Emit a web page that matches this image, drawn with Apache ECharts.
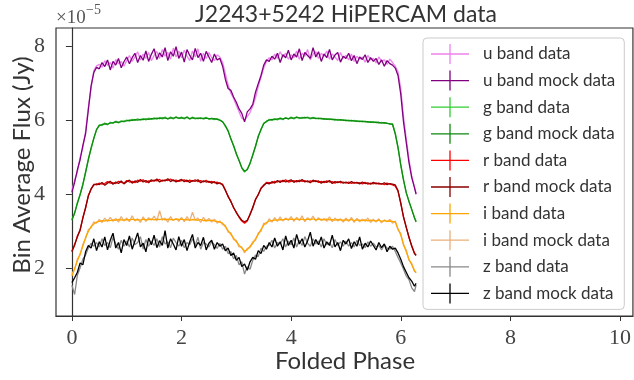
<!DOCTYPE html>
<html>
<head>
<meta charset="utf-8">
<script src="https://cdn.jsdelivr.net/npm/echarts@6/dist/echarts.min.js"></script>
<style>
  html, body { margin: 0; padding: 0; background: #fff; }
  #chart { width: 634px; height: 380px; }
</style>
</head>
<body>
<div id="chart"></div>
<script>
// folded phase of each bin (flux values below are in units of 1e-5 Jy)
const phase = [
  0, 0.05, 0.1, 0.15, 0.2, 0.25, 0.3, 0.35, 0.4, 0.45,
  0.5, 0.55, 0.6, 0.65, 0.7, 0.75, 0.8, 0.85, 0.9, 0.95,
  1, 1.05, 1.1, 1.15, 1.2, 1.25, 1.3, 1.35, 1.4, 1.45,
  1.5, 1.55, 1.6, 1.65, 1.7, 1.75, 1.8, 1.85, 1.9, 1.95,
  2, 2.05, 2.1, 2.15, 2.2, 2.25, 2.3, 2.35, 2.4, 2.45,
  2.5, 2.55, 2.6, 2.65, 2.7, 2.75, 2.8, 2.85, 2.9, 2.95,
  3, 3.05, 3.1, 3.15, 3.2, 3.25, 3.3, 3.35, 3.4, 3.45,
  3.5, 3.55, 3.6, 3.65, 3.7, 3.75, 3.8, 3.85, 3.9, 3.95,
  4, 4.05, 4.1, 4.15, 4.2, 4.25, 4.3, 4.35, 4.4, 4.45,
  4.5, 4.55, 4.6, 4.65, 4.7, 4.75, 4.8, 4.85, 4.9, 4.95,
  5, 5.05, 5.1, 5.15, 5.2, 5.25, 5.3, 5.35, 5.4, 5.45,
  5.5, 5.55, 5.6, 5.65, 5.7, 5.75, 5.8, 5.85, 5.9, 5.95,
  6, 6.05, 6.1, 6.15, 6.2, 6.25, 6.28
];

const uData = [
  4.10, 4.38, 4.60, 5.00, 5.25, 5.70, 6.35, 6.85, 7.33, 7.46,
  7.50, 7.42, 7.60, 7.47, 7.55, 7.40, 7.63, 7.52, 7.58, 7.45,
  7.60, 7.74, 7.58, 7.70, 7.84, 7.62, 7.78, 7.66, 7.82, 7.60,
  7.74, 7.85, 7.66, 7.90, 7.72, 7.82, 7.64, 7.94, 7.70, 7.86,
  7.68, 7.88, 7.72, 7.60, 7.86, 7.70, 7.92, 7.58, 7.80, 7.66,
  7.82, 7.68, 7.60, 7.76, 7.70,
  7.55, 7.25, 6.95, 6.72, 6.58, 6.40, 6.22, 6.05, 6.00, 6.10, 6.20, 6.38, 6.60, 6.90, 7.15, 7.40, 7.58,
  7.68, 7.62, 7.78, 7.66, 7.84, 7.70, 7.80, 7.64,
  7.76, 7.68, 7.86, 7.64, 7.80, 7.72, 7.90, 7.62, 7.78, 7.84,
  7.66, 7.80, 7.72, 7.86, 7.64, 7.78, 7.70, 7.60, 7.82, 7.66,
  7.74, 7.62, 7.78, 7.58, 7.72, 7.64, 7.70, 7.56, 7.74, 7.62,
  7.66, 7.54, 7.70, 7.58, 7.62, 7.50, 7.64, 7.55, 7.45,
  7.30, 6.85, 6.10, 5.50, 4.95, 4.50, 4.20, 4.02
];
const uMock = [
  4.05, 4.32, 4.66, 4.93, 5.32, 5.63, 6.27, 6.92, 7.28, 7.42,
  7.38, 7.55, 7.44, 7.62, 7.35, 7.58, 7.48, 7.66, 7.41, 7.57,
  7.70, 7.52, 7.68, 7.80, 7.55, 7.74, 7.61, 7.86, 7.58, 7.77,
  7.92, 7.63, 7.81, 7.70, 7.95, 7.60, 7.84, 7.72, 7.98, 7.66,
  7.83, 7.56, 7.90, 7.74, 7.62, 7.93, 7.68, 7.80, 7.58, 7.85,
  7.70, 7.55, 7.78, 7.62, 7.66,
  7.45, 7.10, 6.85, 6.80, 6.62, 6.48, 6.30, 6.18, 5.95, 6.22, 6.30, 6.42, 6.75, 6.98, 7.20, 7.48, 7.62,
  7.58, 7.72, 7.64, 7.80, 7.55, 7.76, 7.68, 7.88,
  7.62, 7.78, 7.70, 7.92, 7.60, 7.82, 7.74, 7.66, 7.95, 7.70,
  7.84, 7.58, 7.78, 7.68, 7.90, 7.62, 7.75, 7.82, 7.56, 7.72,
  7.66, 7.80, 7.60, 7.74, 7.52, 7.70, 7.63, 7.76, 7.55, 7.68,
  7.58, 7.66, 7.50, 7.62, 7.45, 7.60, 7.52, 7.48, 7.40,
  7.20, 6.70, 5.95, 5.40, 4.85, 4.45, 4.18, 4.00
];

const gData = [
  3.32, 3.48, 3.78, 3.98, 4.28, 4.58, 4.95, 5.22, 5.52, 5.73,
  5.87, 5.85, 5.92, 5.87, 5.94, 5.91, 5.97, 5.92, 5.98, 5.95,
  6.00, 5.97, 6.02, 5.99, 6.03, 6.00, 6.04, 6.00, 6.05, 6.02,
  6.06, 6.02, 6.07, 6.03, 6.08, 6.02, 6.08, 6.03, 6.09, 6.04,
  6.08, 6.03, 6.09, 6.02, 6.08, 6.03, 6.06, 6.04, 6.05, 6.07,
  6.02, 6.05, 6.01, 6.04, 5.99,
  5.96, 5.83, 5.72, 5.48, 5.32, 5.08, 4.92, 4.70, 4.60, 4.68, 4.82, 5.07, 5.28, 5.57, 5.73, 5.92, 5.95,
  6.02, 5.99, 6.04, 6.00, 6.06, 6.01, 6.07, 6.02,
  6.08, 6.03, 6.09, 6.04, 6.07, 6.05, 6.08, 6.03, 6.07, 6.05,
  6.03, 6.05, 6.02, 6.04, 6.01, 6.03, 6.00, 6.02, 5.99, 6.01,
  5.98, 6.00, 5.97, 5.99, 5.96, 5.98, 5.95, 5.97, 5.94, 5.96,
  5.93, 5.95, 5.92, 5.94, 5.91, 5.92, 5.89, 5.90, 5.65,
  5.28, 4.78, 4.40, 4.03, 3.82, 3.58, 3.38, 3.27
];
const gMock = [
  3.30, 3.50, 3.75, 4.00, 4.25, 4.60, 4.93, 5.25, 5.50, 5.75,
  5.85, 5.88, 5.90, 5.89, 5.92, 5.93, 5.95, 5.94, 5.96, 5.97,
  5.98, 6.00, 5.99, 6.01, 6.00, 6.02, 6.01, 6.03, 6.02, 6.04,
  6.03, 6.05, 6.04, 6.06, 6.05, 6.04, 6.06, 6.05, 6.07, 6.05,
  6.06, 6.05, 6.07, 6.04, 6.06, 6.05, 6.04, 6.06, 6.03, 6.05,
  6.04, 6.03, 6.04, 6.02, 6.00,
  5.95, 5.85, 5.70, 5.50, 5.30, 5.10, 4.90, 4.72, 4.62, 4.66, 4.84, 5.05, 5.30, 5.55, 5.75, 5.90, 5.97,
  6.00, 6.02, 6.01, 6.03, 6.04, 6.03, 6.05, 6.04,
  6.06, 6.05, 6.07, 6.06, 6.05, 6.07, 6.06, 6.05, 6.06, 6.04,
  6.05, 6.03, 6.04, 6.02, 6.03, 6.01, 6.02, 6.00, 6.01, 5.99,
  6.00, 5.98, 5.99, 5.97, 5.98, 5.96, 5.97, 5.95, 5.96, 5.94,
  5.95, 5.93, 5.94, 5.92, 5.93, 5.91, 5.90, 5.88, 5.62,
  5.25, 4.80, 4.38, 4.05, 3.80, 3.60, 3.36, 3.25
];

const rData = [
  2.47, 2.62, 2.88, 3.02, 3.38, 3.62, 3.97, 4.13, 4.27, 4.25,
  4.30, 4.27, 4.29, 4.34, 4.30, 4.31, 4.29, 4.35, 4.32, 4.30,
  4.37, 4.33, 4.35, 4.31, 4.38, 4.35, 4.39, 4.32, 4.36, 4.35,
  4.38, 4.36, 4.40, 4.35, 4.39, 4.37, 4.41, 4.36, 4.38, 4.35,
  4.37, 4.39, 4.34, 4.38, 4.35, 4.39, 4.34, 4.37, 4.33, 4.38,
  4.32, 4.35, 4.31, 4.33, 4.29,
  4.27, 4.12, 3.93, 3.82, 3.63, 3.52, 3.38, 3.28, 3.22, 3.28, 3.47, 3.63, 3.87, 3.98, 4.17, 4.23, 4.32,
  4.31, 4.30, 4.35, 4.33, 4.36, 4.34, 4.39, 4.33,
  4.35, 4.37, 4.33, 4.38, 4.35, 4.37, 4.33, 4.36, 4.34, 4.37,
  4.32, 4.35, 4.31, 4.36, 4.33, 4.34, 4.30, 4.34, 4.31, 4.33,
  4.30, 4.33, 4.29, 4.32, 4.30, 4.31, 4.28, 4.32, 4.27, 4.30,
  4.28, 4.31, 4.27, 4.29, 4.26, 4.30, 4.27, 4.25, 4.22,
  4.08, 3.78, 3.38, 3.12, 2.83, 2.62, 2.42, 2.36
];
const rMock = [
  2.45, 2.65, 2.85, 3.05, 3.35, 3.65, 3.95, 4.15, 4.25, 4.28,
  4.26, 4.32, 4.24, 4.30, 4.35, 4.27, 4.33, 4.29, 4.36, 4.28,
  4.34, 4.38, 4.30, 4.36, 4.32, 4.40, 4.33, 4.37, 4.31, 4.39,
  4.35, 4.41, 4.33, 4.38, 4.36, 4.42, 4.34, 4.39, 4.33, 4.37,
  4.40, 4.34, 4.38, 4.32, 4.37, 4.35, 4.39, 4.31, 4.36, 4.33,
  4.35, 4.30, 4.34, 4.28, 4.31,
  4.25, 4.10, 3.95, 3.80, 3.65, 3.50, 3.40, 3.30, 3.26, 3.30, 3.45, 3.65, 3.85, 4.00, 4.15, 4.25, 4.30,
  4.28, 4.34, 4.30, 4.37, 4.32, 4.38, 4.33, 4.36,
  4.39, 4.32, 4.37, 4.34, 4.40, 4.33, 4.36, 4.31, 4.38, 4.34,
  4.36, 4.30, 4.35, 4.32, 4.37, 4.29, 4.34, 4.31, 4.35, 4.30,
  4.33, 4.29, 4.34, 4.30, 4.32, 4.28, 4.33, 4.29, 4.31, 4.27,
  4.32, 4.28, 4.30, 4.27, 4.31, 4.26, 4.29, 4.27, 4.25,
  4.10, 3.75, 3.40, 3.10, 2.85, 2.60, 2.40, 2.35
];

const iData = [
  1.80, 2.00, 2.20, 2.40, 2.60, 2.84, 3.00, 3.13, 3.20, 3.25,
  3.27, 3.29, 3.28, 3.30, 3.29, 3.31, 3.30, 3.32, 3.31, 3.30,
  3.32, 3.31, 3.33, 3.31, 3.32, 3.30, 3.33, 3.31, 3.32, 3.33,
  3.31, 3.33, 3.32, 3.34, 3.31, 3.33, 3.32, 3.31, 3.33, 3.32,
  3.33, 3.31, 3.32, 3.30, 3.32, 3.31, 3.30, 3.32, 3.29, 3.30,
  3.29, 3.30, 3.28, 3.27, 3.25,
  3.22, 3.12, 3.02, 2.92, 2.82, 2.72, 2.63, 2.55, 2.47, 2.50, 2.60, 2.68, 2.80, 2.92, 3.05, 3.17, 3.24,
  3.28, 3.29, 3.31, 3.30, 3.32, 3.31, 3.33, 3.32,
  3.33, 3.32, 3.34, 3.32, 3.33, 3.31, 3.33, 3.32, 3.34, 3.31,
  3.33, 3.32, 3.31, 3.33, 3.31, 3.32, 3.30, 3.32, 3.31, 3.30,
  3.31, 3.30, 3.32, 3.29, 3.31, 3.30, 3.29, 3.31, 3.28, 3.30,
  3.29, 3.28, 3.30, 3.27, 3.29, 3.27, 3.28, 3.27, 3.25,
  3.07, 2.90, 2.66, 2.45, 2.25, 2.10, 1.95, 1.88
];
const iMock = [
  1.86, 1.97, 2.26, 2.36, 2.65, 2.80, 3.05, 3.10, 3.26, 3.22,
  3.32, 3.24, 3.36, 3.26, 3.38, 3.27, 3.35, 3.25, 3.40, 3.28,
  3.36, 3.26, 3.42, 3.28, 3.34, 3.24, 3.39, 3.27, 3.37, 3.30,
  3.41, 3.28, 3.56, 3.30, 3.36, 3.25, 3.40, 3.29, 3.35, 3.27,
  3.38, 3.26, 3.40, 3.28, 3.52, 3.30, 3.36, 3.24, 3.38, 3.27,
  3.35, 3.25, 3.33, 3.22, 3.28,
  3.18, 3.16, 2.98, 2.96, 2.78, 2.76, 2.58, 2.58, 2.42, 2.54, 2.56, 2.72, 2.76, 2.96, 3.00, 3.22, 3.20,
  3.34, 3.25, 3.37, 3.27, 3.39, 3.28, 3.36, 3.30,
  3.40, 3.27, 3.38, 3.29, 3.42, 3.26, 3.37, 3.30, 3.41, 3.28,
  3.37, 3.29, 3.35, 3.27, 3.39, 3.26, 3.36, 3.28, 3.34, 3.25,
  3.36, 3.27, 3.38, 3.24, 3.35, 3.26, 3.33, 3.27, 3.36, 3.24,
  3.33, 3.25, 3.34, 3.23, 3.31, 3.26, 3.32, 3.22, 3.28,
  3.04, 2.95, 2.62, 2.50, 2.22, 2.14, 1.92, 1.90
];

const zData = [
  1.55, 1.30, 1.82, 2.02, 2.25, 2.36, 2.55, 2.68, 2.60, 2.70,
  2.58, 2.80, 2.62, 2.70, 2.56, 2.84, 2.66, 2.52, 2.76, 2.60,
  2.74, 2.58, 2.82, 2.64, 2.70, 2.86, 2.52, 2.78, 2.60, 2.74,
  2.62, 2.80, 2.58, 2.86, 2.66, 2.72, 2.56, 2.82, 2.70, 2.60,
  2.76, 2.56, 2.70, 2.64, 2.80, 2.62, 2.84, 2.52, 2.70, 2.66,
  2.58, 2.72, 2.64, 2.54, 2.68,
  2.52, 2.60, 2.40, 2.46, 2.26, 2.35, 2.10, 2.18, 1.85, 2.05, 1.98, 2.22, 2.36, 2.32, 2.55, 2.46, 2.60,
  2.62, 2.76, 2.55, 2.70, 2.66, 2.80, 2.58, 2.74,
  2.64, 2.82, 2.58, 2.76, 2.62, 2.86, 2.68, 2.60, 2.80, 2.66,
  2.74, 2.58, 2.80, 2.64, 2.70, 2.56, 2.78, 2.62, 2.72, 2.60,
  2.74, 2.60, 2.70, 2.58, 2.76, 2.62, 2.66, 2.56, 2.72, 2.60,
  2.68, 2.58, 2.62, 2.50, 2.64, 2.55, 2.52, 2.60, 2.46,
  2.30, 2.15, 1.98, 1.80, 1.70, 1.48, 1.38, 1.55
];
const zMock = [
  1.62, 1.75, 1.90, 2.15, 2.10, 2.45, 2.62, 2.55, 2.80, 2.48,
  2.72, 2.58, 2.85, 2.50, 2.76, 2.95, 2.55, 2.70, 2.42, 2.78,
  2.62, 2.88, 2.52, 2.74, 2.96, 2.58, 2.68, 2.45, 2.82, 2.64,
  2.90, 2.56, 2.75, 2.62, 3.02, 2.55, 2.80, 2.66, 2.50, 2.86,
  2.60, 2.78, 2.48, 2.72, 2.92, 2.55, 2.70, 2.62, 2.84, 2.50,
  2.68, 2.76, 2.52, 2.70, 2.60,
  2.66, 2.48, 2.55, 2.35, 2.42, 2.22, 2.30, 2.05, 2.12, 1.95, 2.18, 2.30, 2.25, 2.48, 2.40, 2.62, 2.52,
  2.70, 2.58, 2.82, 2.60, 2.72, 2.50, 2.88, 2.62,
  2.76, 2.55, 2.92, 2.66, 2.80, 2.58, 2.74, 2.98, 2.60, 2.78,
  2.64, 2.85, 2.55, 2.72, 2.62, 2.90, 2.58, 2.70, 2.48, 2.76,
  2.66, 2.80, 2.54, 2.72, 2.60, 2.85, 2.52, 2.68, 2.58, 2.74,
  2.62, 2.50, 2.70, 2.56, 2.66, 2.45, 2.60, 2.52, 2.55,
  2.42, 2.25, 2.05, 1.90, 1.75, 1.66, 1.52, 1.60
];

const xTicks = [0, 2, 4, 6, 8, 10];
const yTicks = [2, 4, 6, 8];

// name, values, colour, drawing layer
const bands = [
  ['u band data', uData, '#ee82ee', 2],
  ['u band mock data', uMock, '#800080', 2],
  ['g band data', gData, '#32cd32', 2],
  ['g band mock data', gMock, '#118811', 2],
  ['r band data', rData, '#ff0000', 2],
  ['r band mock data', rMock, '#8b0000', 2],
  ['i band data', iData, '#ffa500', 3],
  ['i band mock data', iMock, '#eab07a', 2],
  ['z band data', zData, '#888888', 2],
  ['z band mock data', zMock, '#000000', 2]
];

const crossIcon = 'path://M0,9.35H38V10.65H0Z M18.35,0H19.65V20H18.35Z';
const axisColor = '#333';
const tickFont = { fontFamily: 'Liberation Serif', fontSize: 22, color: '#444' };

const chart = echarts.init(document.getElementById('chart'));
chart.setOption({
  animation: false,
  backgroundColor: '#fff',
  grid: {
    left: 56, top: 28, width: 580, height: 288,
    show: true, borderColor: axisColor, borderWidth: 1.2, backgroundColor: 'transparent'
  },
  xAxis: {
    type: 'value', min: -0.29, max: 10.236,
    splitLine: { show: false },
    axisLine: { lineStyle: { color: axisColor, width: 1.2 } },
    axisTick: { customValues: xTicks, length: 5, lineStyle: { color: axisColor } },
    axisLabel: Object.assign({ customValues: xTicks, margin: 11 }, tickFont)
  },
  yAxis: {
    type: 'value', min: 0.72, max: 8.48,
    splitLine: { show: false },
    axisLine: { show: true, lineStyle: { color: axisColor, width: 1.2 } },
    axisTick: { show: true, customValues: yTicks, length: 6, lineStyle: { color: axisColor } },
    axisLabel: Object.assign({ customValues: yTicks, margin: 11 }, tickFont)
  },
  legend: {
    orient: 'vertical', left: 423, top: 38,
    padding: [6, 9, 6, 8],
    itemWidth: 38, itemHeight: 20, itemGap: 6.6,
    icon: crossIcon,
    backgroundColor: 'rgba(255,255,255,0.85)',
    borderColor: '#cccccc', borderWidth: 1, borderRadius: 4,
    textStyle: { fontFamily: 'Lato', fontSize: 17, color: '#333', padding: [0, 0, 0, 9] },
    data: bands.map(b => b[0])
  },
  graphic: [
    { type: 'text', x: 346, y: 15, style: { text: 'J2243+5242 HiPERCAM data', fontFamily: 'Lato', fontSize: 23, fill: '#333', textAlign: 'center', textVerticalAlign: 'middle' } },
    { type: 'text', x: 56, y: 18, style: { text: '×10', fontFamily: 'Liberation Serif', fontSize: 19, fill: '#555', textVerticalAlign: 'middle' } },
    { type: 'text', x: 86, y: 10, style: { text: '−5', fontFamily: 'Liberation Serif', fontSize: 14, fill: '#555', textVerticalAlign: 'middle' } },
    { type: 'text', x: 345, y: 361, style: { text: 'Folded Phase', fontFamily: 'Lato', fontSize: 24, fill: '#333', textAlign: 'center', textVerticalAlign: 'middle' } },
    { type: 'text', x: 22, y: 165, rotation: Math.PI / 2, style: { text: 'Bin Average Flux (Jy)', fontFamily: 'Lato', fontSize: 24, fill: '#333', textAlign: 'center', textVerticalAlign: 'middle' } }
  ],
  series: bands.map(([name, vals, color, layer]) => ({
    name: name,
    type: 'line',
    z: layer,
    data: vals.map((v, i) => [phase[i], v]),
    showSymbol: false,
    symbol: 'none',
    color: color,
    itemStyle: { color: color },
    lineStyle: { color: color, width: 1.3 }
  }))
});
</script>
</body>
</html>
